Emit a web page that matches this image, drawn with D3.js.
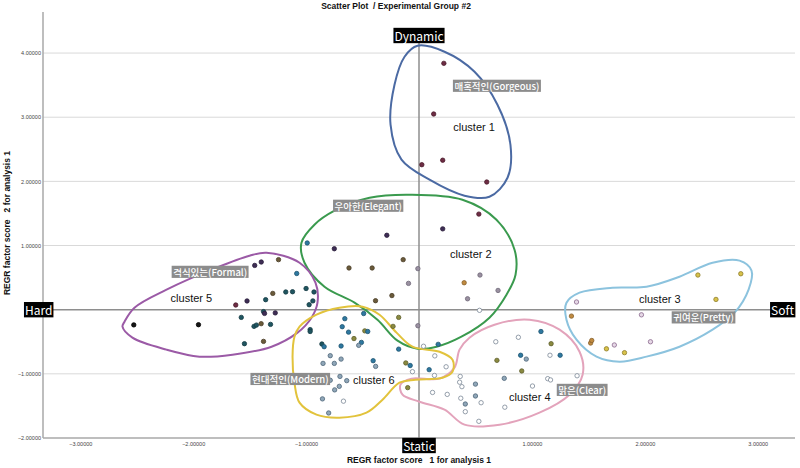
<!DOCTYPE html>
<html>
<head>
<meta charset="utf-8">
<script src="https://cdn.jsdelivr.net/npm/d3@7"></script>
<style>
  body { margin: 0; background: #fff; }
  svg { display: block; }
</style>
</head>
<body>
<svg id="chart" width="800" height="468"></svg>
<script>
// points: [factor score 1, factor score 2, marker tone]
const cluster1 = [[0.22, 3.84, 0], [0.13, 3.05, 0], [0.025, 2.26, 0], [0.21, 2.33, 0], [0.60, 1.99, 0]];
const cluster2 = [
  [0.53, 1.49, 0], [0.21, 1.26, 2], [-0.285, 1.16, 2], [-0.99, 1.04, 4], [-0.75, 0.95, 2],
  [-0.14, 0.78, 5], [-0.62, 0.65, 5], [-0.415, 0.65, 5], [-0.01, 0.64, 6], [0.54, 0.54, 6],
  [0.40, 0.42, 10], [-0.093, 0.41, 6], [0.70, 0.30, 6], [0.43, 0.17, 6], [-0.24, 0.22, 5],
  [-0.385, 0.14, 5], [0.536, -0.01, 7], [-0.18, -0.12, 8], [-0.23, -0.26, 8], [-0.01, -0.25, 6]
];
const cluster3 = [
  [2.47, 0.54, 9], [2.85, 0.56, 9], [2.63, 0.16, 9], [1.395, 0.12, 12], [1.35, -0.10, 10],
  [1.97, -0.08, 12], [1.52, -0.52, 10], [1.53, -0.48, 10], [1.66, -0.61, 9], [1.73, -0.55, 12],
  [1.82, -0.67, 9], [2.05, -0.50, 12]
];
const cluster4 = [
  [1.08, -0.34, 4], [0.88, -0.43, 7], [0.68, -0.50, 7], [1.17, -0.53, 8], [0.90, -0.71, 4],
  [0.95, -0.77, 11], [1.16, -0.71, 7], [1.25, -0.71, 4], [0.69, -0.79, 8], [0.91, -0.955, 8],
  [1.40, -1.03, 7], [0.755, -1.07, 11], [1.14, -1.075, 7], [1.165, -1.095, 7], [1.005, -1.19, 7],
  [0.12, -1.29, 7], [0.25, -1.32, 7], [0.37, -1.38, 7], [0.50, -1.345, 11], [0.41, -1.47, 11],
  [0.55, -1.45, 7], [0.76, -1.52, 7], [0.41, -1.59, 7], [0.53, -1.74, 7], [0.365, -1.04, 7],
  [0.36, -1.13, 7], [0.38, -1.20, 7], [0.50, -1.16, 11], [-0.10, -1.215, 8]
];
const cluster5 = [
  [-2.526, -0.237, 1], [-1.953, -0.234, 1], [-1.455, 0.69, 2], [-1.397, 0.743, 2], [-1.244, 0.78, 5],
  [-1.083, 0.564, 4], [-1.00, 0.33, 3], [-0.93, 0.276, 3], [-1.623, 0.073, 0], [-1.523, 0.136, 2],
  [-1.358, 0.156, 3], [-1.295, 0.254, 5], [-1.18, 0.276, 3], [-1.12, 0.28, 3], [-0.94, 0.137, 3],
  [-0.973, 0.078, 3], [-1.574, -0.12, 3], [-1.377, -0.03, 3], [-1.368, -0.058, 2], [-1.273, -0.05, 2],
  [-1.461, -0.26, 3], [-1.44, -0.24, 3], [-1.398, -0.218, 5], [-1.315, -0.229, 3], [-1.546, -0.53, 3],
  [-1.377, -0.494, 5]
];
const cluster6 = [
  [-0.657, -0.14, 4], [-0.49, -0.06, 4], [-0.964, -0.31, 3], [-0.964, -0.34, 3], [-0.68, -0.265, 4],
  [-0.624, -0.35, 4], [-0.48, -0.33, 8], [-0.454, -0.34, 4], [-0.576, -0.45, 8], [-0.51, -0.51, 4],
  [-0.534, -0.556, 11], [-0.86, -0.535, 3], [-0.84, -0.577, 4], [-0.69, -0.566, 4], [-0.786, -0.717, 11],
  [-0.69, -0.77, 11], [-0.85, -0.837, 11], [-0.75, -0.837, 11], [-0.406, -0.795, 4], [-0.384, -0.884, 11],
  [-0.70, -1.04, 11], [-0.64, -1.106, 11], [-0.786, -1.10, 11], [-0.706, -1.195, 11], [-0.747, -1.25, 11],
  [-0.855, -1.39, 11], [-0.669, -1.426, 7], [-0.80, -1.61, 11],
  [-0.18, -0.615, 4], [-0.117, -0.83, 8], [-0.078, -0.87, 4], [-0.058, -0.966, 7], [0.04, -0.57, 7],
  [0.17, -0.54, 4], [0.14, -0.72, 7], [0.24, -0.89, 7], [0.09, -0.935, 4], [0.137, -1.025, 7]
];

// cluster outlines, in factor score units
const hull1 = [[-0.013, 4.114], [0.226, 4.021], [0.492, 3.709], [0.695, 3.195], [0.81, 2.57], [0.784, 2.057],
  [0.624, 1.761], [0.403, 1.777], [0.093, 2.026], [-0.155, 2.338], [-0.252, 2.883], [-0.217, 3.506], [-0.128, 3.943]];
const hull2 = [[-0.748, 1.543], [-0.438, 1.745], [-0.084, 1.792], [0.385, 1.714], [0.686, 1.403], [0.846, 0.935],
  [0.855, 0.545], [0.775, 0.234], [0.624, -0.125], [0.376, -0.421], [0.155, -0.577], [-0.013, -0.608],
  [-0.19, -0.483], [-0.368, -0.156], [-0.571, 0.109], [-0.837, 0.358], [-1.014, 0.732], [-1.041, 1.044], [-0.926, 1.325]];
const hull3 = [[1.306, 0.109], [1.422, 0.265], [1.714, 0.343], [2.015, 0.358], [2.307, 0.514], [2.6, 0.732],
  [2.839, 0.764], [2.945, 0.608], [2.919, 0.312], [2.795, -0.047], [2.6, -0.312], [2.307, -0.577],
  [2.015, -0.732], [1.776, -0.81], [1.572, -0.732], [1.395, -0.468], [1.306, -0.156]];
const hull4 = [[0.447, -0.436], [0.669, -0.234], [0.979, -0.156], [1.245, -0.312], [1.422, -0.655], [1.449, -1.013],
  [1.333, -1.325], [1.067, -1.605], [0.713, -1.792], [0.403, -1.792], [0.226, -1.558], [0.004, -1.434],
  [-0.146, -1.325], [-0.164, -1.169], [-0.066, -1.075], [0.182, -1.075], [0.314, -0.904], [0.359, -0.623]];
const hull5 = [[-2.608, -0.187], [-2.52, 0.031], [-2.236, 0.312], [-1.794, 0.655], [-1.501, 0.842], [-1.351, 0.888],
  [-1.058, 0.732], [-0.917, 0.421], [-0.899, 0.109], [-0.952, -0.125], [-1.076, -0.358], [-1.306, -0.577],
  [-1.652, -0.701], [-1.944, -0.732], [-2.236, -0.623], [-2.538, -0.436], [-2.626, -0.265]];
const hull6 = [[-1.058, -0.265], [-0.908, -0.078], [-0.705, 0.031], [-0.5, 0.047], [-0.35, -0.078], [-0.199, -0.358],
  [-0.058, -0.577], [0.182, -0.655], [0.297, -0.779], [0.297, -0.966], [0.208, -1.06], [-0.031, -1.091],
  [-0.173, -1.138], [-0.323, -1.403], [-0.465, -1.605], [-0.705, -1.683], [-0.908, -1.636], [-1.058, -1.449],
  [-1.103, -1.138], [-1.12, -0.732], [-1.103, -0.421]];

const clusterNames = ['cluster 1', 'cluster 2', 'cluster 3', 'cluster 4', 'cluster 5', 'cluster 6'];
const clusterLabelAt = [[0.304, 2.785], [0.275, 0.806], [1.949, 0.104], [0.797, -1.423], [-2.2, 0.12], [-0.585, -1.158]];
const adjectives = ['매혹적인(Gorgeous)', '우아한(Elegant)', '귀여운(Pretty)', '맑은(Clear)', '격식있는(Formal)', '현대적인(Modern)'];
const adjectiveAt = [[0.69, 3.49], [-0.45, 1.62], [2.52, -0.12], [1.445, -1.25], [-1.85, 0.59], [-1.14, -1.08]];
const xTicks = [-3, -2, -1, 1, 2, 3];
const yTicks = [-2, -1, 1, 2, 3, 4];

const svg = d3.select('#chart');
const x = d3.scaleLinear().domain([-3.33, 3.33]).range([43, 795]);
const y = d3.scaleLinear().domain([-2, 4.64]).range([438, 12]);

const hullColor = ['#4b6aa3', '#3a9a4e', '#8cc3de', '#e3a3bb', '#9b5aa6', '#e2c33c'];
const toneFill = ['#6e2c44', '#151515', '#3e2d55', '#1f5560', '#2e78a0', '#6a5a3a', '#9a90a0',
  '#ffffff', '#8a8a40', '#d8c24a', '#c08a40', '#8fa6b8', '#e6d8e6'];
const toneStroke = ['#4a1c2c', '#000000', '#2a1e3a', '#143a42', '#1e5470', '#4a3e28', '#6e6878',
  '#7a8696', '#5e5e2c', '#8e7c2a', '#86602a', '#4e6678', '#8a6a8e'];

// grid
svg.append('g')
  .selectAll('line')
  .data(yTicks.filter(d => d !== -2))
  .enter()
  .append('line')
  .attr('x1', x.range()[0]).attr('x2', x.range()[1])
  .attr('y1', d => y(d)).attr('y2', d => y(d))
  .attr('stroke', '#d9d9d9')
  .attr('stroke-width', 1);

// axis frame
svg.append('line')
  .attr('x1', 43).attr('x2', 43).attr('y1', y.range()[1]).attr('y2', y(-2))
  .attr('stroke', '#a8a8a8').attr('stroke-width', 1.5);
svg.append('line')
  .attr('x1', 43).attr('x2', x.range()[1]).attr('y1', y(-2)).attr('y2', y(-2))
  .attr('stroke', '#a8a8a8').attr('stroke-width', 1.5);

// reference lines
svg.append('line')
  .attr('x1', x.range()[0]).attr('x2', x.range()[1]).attr('y1', y(0)).attr('y2', y(0))
  .attr('stroke', '#8e8e8e').attr('stroke-width', 1.5);
svg.append('line')
  .attr('x1', x(0)).attr('x2', x(0)).attr('y1', 40).attr('y2', y(-2))
  .attr('stroke', '#8e8e8e').attr('stroke-width', 1.5);

const fmt = d3.format('.5f');
const yAxis = svg.append('g')
  .attr('transform', 'translate(41,0)')
  .call(d3.axisLeft(y).tickValues(yTicks).tickSize(0).tickPadding(0).tickFormat(fmt));
const xAxis = svg.append('g')
  .attr('transform', `translate(0,${y(-2) + 4})`)
  .call(d3.axisBottom(x).tickValues(xTicks).tickSize(0).tickPadding(0).tickFormat(fmt));
[yAxis, xAxis].forEach(g => {
  g.select('.domain').remove();
  g.selectAll('text')
    .attr('font-family', 'Liberation Sans, Arial, sans-serif')
    .attr('font-size', 5.5)
    .attr('fill', '#444');
});

// cluster outlines
const outline = d3.line()
  .x(d => x(d[0]))
  .y(d => y(d[1]))
  .curve(d3.curveCatmullRomClosed.alpha(0.5));

svg.append('g')
  .selectAll('path')
  .data([hull1, hull2, hull3, hull4, hull5, hull6])
  .enter()
  .append('path')
  .attr('d', outline)
  .attr('fill', 'none')
  .attr('stroke', (d, i) => hullColor[i])
  .attr('stroke-width', 2);

// points
const points = [].concat(cluster1, cluster2, cluster3, cluster4, cluster5, cluster6);
svg.append('g')
  .selectAll('circle')
  .data(points)
  .enter()
  .append('circle')
  .attr('cx', d => x(d[0]))
  .attr('cy', d => y(d[1]))
  .attr('r', 2.2)
  .attr('fill', d => toneFill[d[2]])
  .attr('stroke', d => toneStroke[d[2]])
  .attr('stroke-width', 0.8);

// cluster names
svg.append('g')
  .selectAll('text')
  .data(clusterNames)
  .enter()
  .append('text')
  .attr('x', (d, i) => x(clusterLabelAt[i][0]))
  .attr('y', (d, i) => y(clusterLabelAt[i][1]))
  .attr('font-family', 'Liberation Sans, Arial, sans-serif')
  .attr('font-size', 11)
  .attr('fill', '#111')
  .text(d => d);

// boxed labels
function boxed(px, py, label, size, bg, pad, weight) {
  const g = svg.append('g');
  const t = g.append('text')
    .attr('x', px).attr('y', py)
    .attr('text-anchor', 'middle')
    .attr('dominant-baseline', 'central')
    .attr('font-family', 'Noto Sans CJK KR, Noto Sans, sans-serif')
    .attr('font-size', size)
    .attr('font-weight', weight)
    .attr('fill', '#fff')
    .text(label);
  const b = t.node().getBBox();
  g.insert('rect', 'text')
    .attr('x', b.x - pad).attr('y', py - size * 0.64)
    .attr('width', b.width + pad * 2).attr('height', size * 1.28)
    .attr('fill', bg);
}

adjectives.forEach((d, i) => boxed(x(adjectiveAt[i][0]), y(adjectiveAt[i][1]), d, 9.5, '#8c8c8c', 1.5, 500));

boxed(x(0), 35.5, 'Dynamic', 12, '#000', 1, 400);
boxed(x(0), y(-2) + 7.5, 'Static', 12, '#000', 1, 400);
boxed(38.7, y(0), 'Hard', 12, '#000', 1, 400);
boxed(782.5, y(0), 'Soft', 12, '#000', 1, 400);

// titles
svg.append('text')
  .attr('x', 396).attr('y', 8.5)
  .attr('text-anchor', 'middle')
  .attr('font-family', 'Liberation Sans, Arial, sans-serif')
  .attr('font-weight', 'bold')
  .attr('font-size', 8.5)
  .attr('fill', '#111')
  .style('white-space', 'pre')
  .text('Scatter Plot  / Experimental Group #2');

svg.append('text')
  .attr('x', 419).attr('y', 463)
  .attr('text-anchor', 'middle')
  .attr('font-family', 'Liberation Sans, Arial, sans-serif')
  .attr('font-weight', 'bold')
  .attr('font-size', 8.5)
  .attr('fill', '#111')
  .style('white-space', 'pre')
  .text('REGR factor score   1 for analysis 1');

svg.append('text')
  .attr('transform', 'translate(10,223) rotate(-90)')
  .attr('text-anchor', 'middle')
  .attr('font-family', 'Liberation Sans, Arial, sans-serif')
  .attr('font-weight', 'bold')
  .attr('font-size', 8.5)
  .attr('fill', '#111')
  .style('white-space', 'pre')
  .text('REGR factor score   2 for analysis 1');
</script>
</body>
</html>
